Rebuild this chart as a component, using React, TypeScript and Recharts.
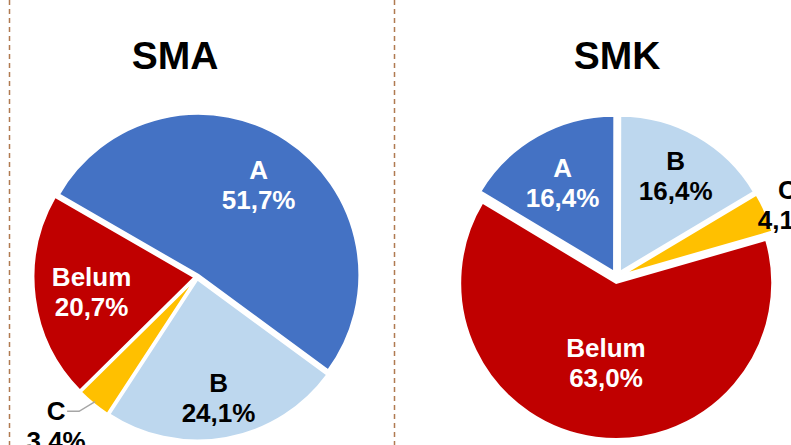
import React from 'react';
import { PieChart, Pie, Cell, Sector, Customized } from 'recharts';

const categories = ['A', 'B', 'C', 'Belum'];
const smaValues = [51.7, 24.1, 3.4, 20.7];
const smkValues = [16.4, 16.4, 4.1, 63.0];
const titles = ['SMA', 'SMK'];

const COLORS = ['#4472C4', '#BDD7EE', '#FFC000', '#C00000'];
const LABEL_COLORS = ['#FFFFFF', '#000000', '#000000', '#FFFFFF'];
const FONT = '"Liberation Sans", Arial, Helvetica, sans-serif';
const RAD = Math.PI / 180;

const smaData = categories.map((name, i) => ({ name, value: smaValues[i] }));
const smkData = categories.map((name, i) => ({ name, value: smkValues[i] }));

// label radial placement (fraction of outer radius), per slice
const smaLabelPos = [0.7, 0.75, 1.0, 0.66];
const smkLabelPos = [0.71, 0.76, 1.19, 0.54];

const fmt = (v: number) => v.toFixed(1).replace('.', ',') + '%';

function makeLabel(pos: number[], leaderIndex: number) {
  return (props: any) => {
    const { cx, cy, midAngle, outerRadius, index, name, value } = props;
    const color = LABEL_COLORS[index];
    if (index === leaderIndex) {
      const sx = cx + outerRadius * Math.cos(-midAngle * RAD);
      const sy = cy + outerRadius * Math.sin(-midAngle * RAD);
      const ea = midAngle - 2;
      const ex = cx + outerRadius * 1.11 * Math.cos(-ea * RAD);
      const ey = cy + outerRadius * 1.11 * Math.sin(-ea * RAD);
      const hx = ex - 12;
      const tx = hx - 11;
      return (
        <g>
          <polyline points={`${sx},${sy} ${ex},${ey} ${hx},${ey}`} fill="none" stroke="#A6A6A6" strokeWidth={1.5} />
          <text x={tx} y={ey} textAnchor="middle" fontFamily={FONT} fontWeight="bold" fontSize={26} fill={color}>
            <tspan x={tx} dy={9}>{name}</tspan>
            <tspan x={tx} dy={30}>{fmt(value)}</tspan>
          </text>
        </g>
      );
    }
    const r = outerRadius * pos[index];
    const x = cx + r * Math.cos(-midAngle * RAD);
    const y = cy + r * Math.sin(-midAngle * RAD);
    return (
      <text x={x} y={y} textAnchor="middle" fontFamily={FONT} fontWeight="bold" fontSize={26} fill={color}>
        <tspan x={x} dy={-4}>{name}</tspan>
        <tspan x={x} dy={30}>{fmt(value)}</tspan>
      </text>
    );
  };
}

function makeShape(offset: number) {
  return (props: any) => {
    const { cx, cy, midAngle } = props;
    const dx = offset * Math.cos(-midAngle * RAD);
    const dy = offset * Math.sin(-midAngle * RAD);
    return <Sector {...props} cx={cx + dx} cy={cy + dy} />;
  };
}

const Decorations = () => (
  <g>
    <line x1={9.5} y1={0} x2={9.5} y2={445} stroke="#B07A50" strokeWidth={1.5} strokeDasharray="5 4" />
    <line x1={394.5} y1={0} x2={394.5} y2={445} stroke="#B07A50" strokeWidth={1.5} strokeDasharray="5 4" />
    <text x={175} y={69} textAnchor="middle" fontFamily={FONT} fontWeight="bold" fontSize={39} fill="#000">{titles[0]}</text>
    <text x={617} y={69} textAnchor="middle" fontFamily={FONT} fontWeight="bold" fontSize={39} fill="#000">{titles[1]}</text>
  </g>
);

export default function App() {
  return (
    <div style={{ position: 'absolute', left: 0, top: 0, width: 791, height: 445, background: '#fff' }}>
      <PieChart width={791} height={445} margin={{ top: 0, right: 0, bottom: 0, left: 0 }}>
        <Customized component={Decorations} />
        <Pie
          data={smaData}
          dataKey="value"
          nameKey="name"
          cx={197}
          cy={277}
          outerRadius={161}
          startAngle={150}
          endAngle={-210}
          stroke="#FFFFFF"
          strokeWidth={2}
          isAnimationActive={false}
          labelLine={false}
          label={makeLabel(smaLabelPos, 2)}
          shape={makeShape(2.5)}
        >
          {smaData.map((d, i) => (
            <Cell key={d.name} fill={COLORS[i]} />
          ))}
        </Pie>
        <Pie
          data={smkData}
          dataKey="value"
          nameKey="name"
          cx={617}
          cy={277}
          outerRadius={156}
          startAngle={149}
          endAngle={-211}
          stroke="#FFFFFF"
          strokeWidth={2}
          isAnimationActive={false}
          labelLine={false}
          label={makeLabel(smkLabelPos, -1)}
          shape={makeShape(6)}
        >
          {smkData.map((d, i) => (
            <Cell key={d.name} fill={COLORS[i]} />
          ))}
        </Pie>
      </PieChart>
    </div>
  );
}
